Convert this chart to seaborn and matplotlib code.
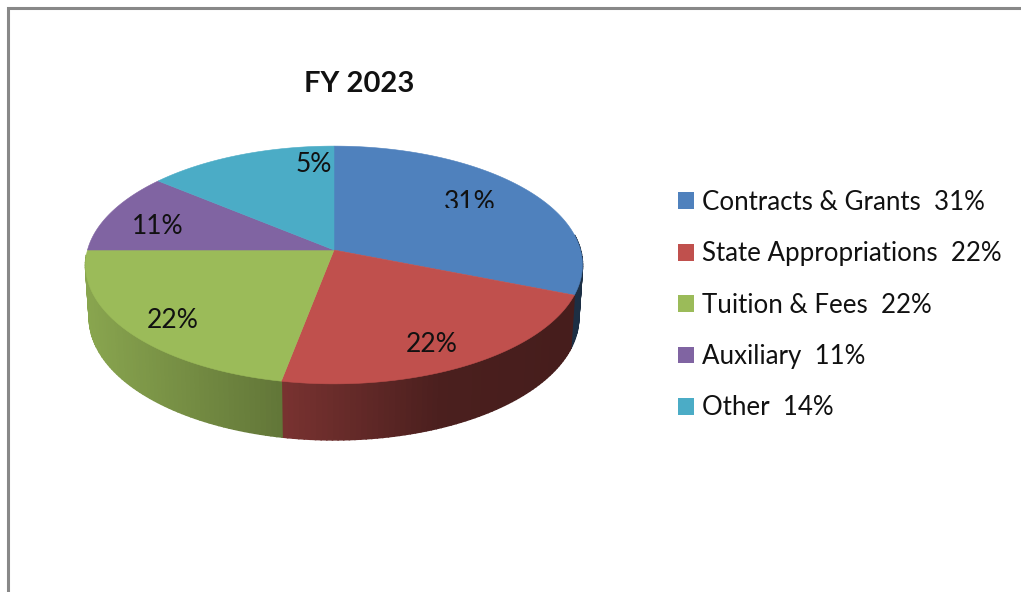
import numpy as np
import matplotlib
matplotlib.use('Agg')
import matplotlib.pyplot as plt
from matplotlib.patches import Patch, Rectangle
import seaborn as sns

# 数据
title = 'FY 2023'
categories = ['Contracts & Grants', 'State Appropriations', 'Tuition & Fees', 'Auxiliary', 'Other']
values = [31, 22, 22, 11, 14]
legend_pct = ['31%', '22%', '22%', '11%', '14%']
slice_labels = ['31%', '22%', '22%', '11%', '5%']  # 原图 Other 扇区上写的就是 5%
colors = ['#4f81bd', '#c0504d', '#9bbb59', '#8064a2', '#4bacc6']

sns.set_theme(style='white')
plt.rcParams['font.family'] = ['Lato', 'DejaVu Sans']
palette = sns.color_palette(colors)

# 饼图的透视参数 (单位: 像素)
cx, cy = 334, 250
rx, ry, k = 246.5, 117, -0.126


def top_xy(theta):
    # theta 从正上方顺时针
    u, v = np.sin(theta), -np.cos(theta)
    d = 1 + k * v
    return cx + rx * u / d, cy + ry * v / d


def bottom_xy(theta):
    x, y = top_xy(theta)
    depth = 52 + 4 * -np.cos(theta)
    return cx + (x - cx) * 0.985, y + depth


def shade(x):
    return np.interp(x, [88, 282, 440, 584], [0.88, 0.63, 0.39, 0.36])


fig = plt.figure(figsize=(10.21, 5.92), dpi=100)
ax = fig.add_axes([0, 0, 1, 1])
ax.set_xlim(0, 1021)
ax.set_ylim(592, 0)
ax.axis('off')

# 外框
ax.plot([8, 8, 1021], [592, 8, 8], color='#888888', lw=2.2, solid_joinstyle='miter')

edges = np.cumsum([0] + values) / sum(values) * 2 * np.pi

# 侧面: 细条渐变
for i, col in enumerate(palette):
    t0, t1 = edges[i], edges[i + 1]
    ts = np.linspace(t0, t1, max(int((t1 - t0) * 50), 2))
    for a, b in zip(ts[:-1], ts[1:]):
        mid = (a + b) / 2
        if np.cos(mid) > 0.12 or (mid > np.pi and np.cos(mid) > -0.05):  # 背面不画
            continue
        xa, ya = top_xy(a)
        xb, yb = top_xy(b)
        xc, yc = bottom_xy(b)
        xd, yd = bottom_xy(a)
        c = np.array(col) * shade((xa + xb) / 2)
        ax.fill([xa, xb, xc, xd], [ya, yb, yc, yd], color=c, lw=1.1, zorder=2)

# 顶面
for i, col in enumerate(palette):
    ts = np.linspace(edges[i], edges[i + 1], 120)
    x, y = top_xy(ts)
    ax.fill(np.r_[cx, x], np.r_[cy, y], color=col, lw=0.4, zorder=3)

# 扇区标签
label_pos = [(470, 203), (432, 345), (173, 320), (158, 226), (314, 165)]
for lab, (x, y) in zip(slice_labels, label_pos):
    t = ax.text(x, y, lab, ha='center', va='center', fontsize=19, color='#111111', zorder=4)
    if lab == '31%':
        # 原图这个标签下边被裁掉了一点
        t.set_clip_path(Rectangle((430, 170), 80, 38, transform=ax.transData))
        t.set_clip_on(True)

ax.text(359.5, 84, title, ha='center', va='center', fontsize=21, fontweight='bold', color='#111111')

handles = [Patch(facecolor=c, edgecolor='none') for c in palette]
labels = [f'{n}  {p}' for n, p in zip(categories, legend_pct)]
ax.legend(handles, labels, loc='upper left', bbox_to_anchor=(678 / 1021, 1 - 190 / 592),
          frameon=False, fontsize=18.6, handlelength=0.63, handleheight=0.63, handletextpad=0.28,
          labelspacing=1.02, labelcolor='#111111', borderpad=0, borderaxespad=0)

plt.savefig('out.png', dpi=100)
